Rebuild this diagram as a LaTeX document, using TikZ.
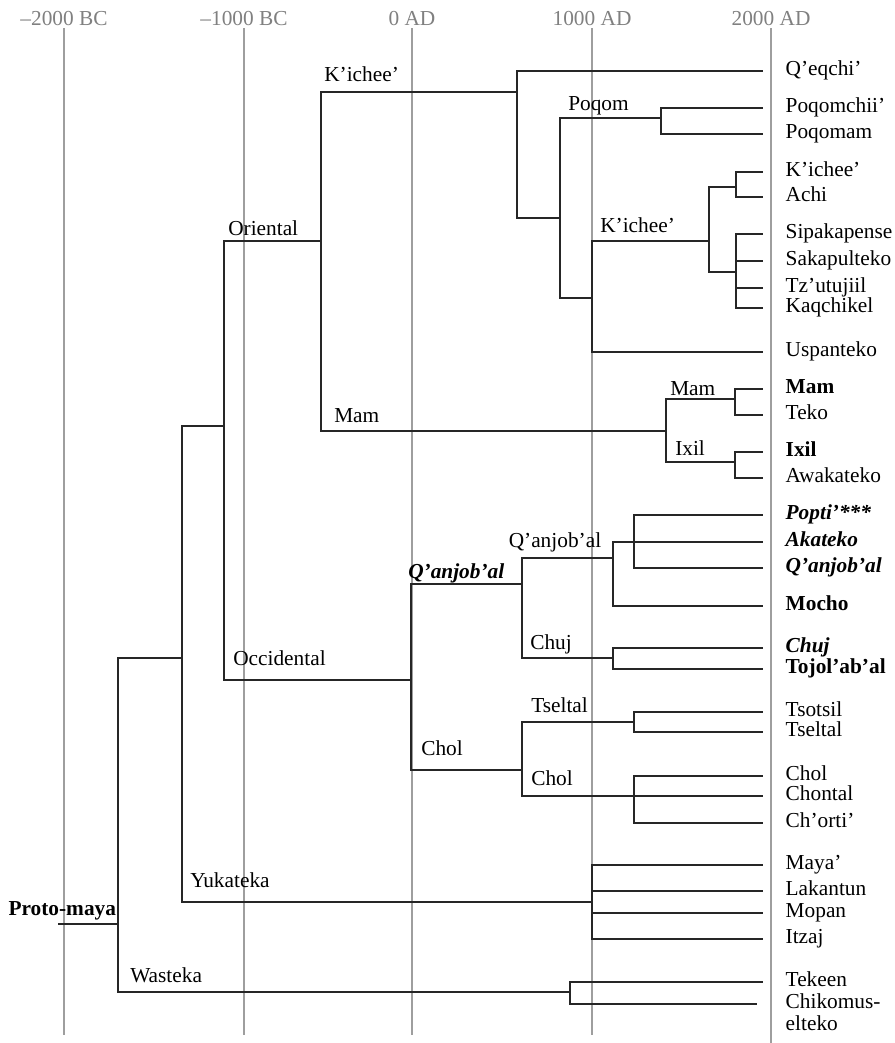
\documentclass[tikz,border=0pt]{standalone}
\usepackage{fontspec}
\setmainfont{Liberation Serif}
\definecolor{yeargray}{gray}{0.5}
\definecolor{ruler}{gray}{0.62}
\tikzset{
  branch/.style={line width=1.5pt, black!85},
  leaf/.style={anchor=west, inner xsep=0pt, inner ysep=0pt, outer xsep=17.4pt, outer ysep=0pt, text height=0.7em, text depth=0.04em},
  grp/.style={anchor=base west, inner sep=0pt},
  year/.style={anchor=base, inner sep=0pt, text=yeargray}
}

\begin{document}
\begin{tikzpicture}[x=0.75pt, y=-0.75pt, font=\fontsize{16}{16.5}\selectfont]
  \useasboundingbox (0,0) rectangle (895,1043);
  \foreach \x/\bot/\yr in {64/1035/{--2000 BC}, 244/1035/{--1000 BC}, 412/1035/{0 AD}, 592/1035/{1000 AD}, 771/1043/{2000 AD}} {
    \draw[ruler, line width=1pt] (\x,28) -- (\x,\bot);
    \node[year] (yr\x) at (\x,25) {\yr};
  }

  \coordinate (root) at (58,924);
  \coordinate (pm) at (118,924);
  \coordinate (core) at (182,658);
  \coordinate (wast) at (570,992);
  \coordinate (split) at (224,426);
  \coordinate (yuk) at (592,902);
  \coordinate (orient) at (321,241);
  \coordinate (occid) at (411,680);
  \coordinate (kichA) at (517,92);
  \coordinate (mamgrp) at (666,431);
  \coordinate (kichB) at (560,218);
  \coordinate (poqom) at (661,118);
  \coordinate (kichC) at (592,298);
  \coordinate (kichD) at (709,241);
  \coordinate (kichE) at (736,187);
  \coordinate (kichF) at (736,272);
  \coordinate (mamsub) at (735,399);
  \coordinate (ixilsub) at (735,462);
  \coordinate (qanj) at (522,584);
  \coordinate (cholgrp) at (522,770);
  \coordinate (qanjsub) at (613,558);
  \coordinate (popq) at (634,542);
  \coordinate (chujsub) at (613,658);
  \coordinate (tseltalsub) at (634,722);
  \coordinate (cholsub) at (634,796);

  \node[leaf] (qeqchi) at (762.5,71) {Q’eqchi’};
  \node[leaf] (poqomchii) at (762.5,108) {Poqomchii’};
  \node[leaf] (poqomam) at (762.5,134) {Poqomam};
  \node[leaf] (kichee) at (762.5,172) {K’ichee’};
  \node[leaf] (achi) at (762.5,197) {Achi};
  \node[leaf] (sipakapense) at (762.5,234) {Sipakapense};
  \node[leaf] (sakapulteko) at (762.5,261) {Sakapulteko};
  \node[leaf] (tzutujiil) at (762.5,288) {Tz’utujiil};
  \node[leaf] (kaqchikel) at (762.5,308) {Kaqchikel};
  \node[leaf] (uspanteko) at (762.5,352) {Uspanteko};
  \node[leaf] (mam) at (762.5,389) {\textbf{Mam}};
  \node[leaf] (teko) at (762.5,415) {Teko};
  \node[leaf] (ixil) at (762.5,452) {\textbf{Ixil}};
  \node[leaf] (awakateko) at (762.5,478) {Awakateko};
  \node[leaf] (popti) at (762.5,515) {\textbf{\textit{Popti’***}}};
  \node[leaf] (akateko) at (762.5,542) {\textbf{\textit{Akateko}}};
  \node[leaf] (qanjobal) at (762.5,568) {\textbf{\textit{Q’anjob’al}}};
  \node[leaf] (mocho) at (762.5,606) {\textbf{Mocho}};
  \node[leaf] (chuj) at (762.5,648) {\textbf{\textit{Chuj}}};
  \node[leaf] (tojolabal) at (762.5,669) {\textbf{Tojol’ab’al}};
  \node[leaf] (tsotsil) at (762.5,712) {Tsotsil};
  \node[leaf] (tseltal) at (762.5,732) {Tseltal};
  \node[leaf] (chol) at (762.5,776) {Chol};
  \node[leaf] (chontal) at (762.5,796) {Chontal};
  \node[leaf] (chorti) at (762.5,823) {Ch’orti’};
  \node[leaf] (maya) at (762.5,865) {Maya’};
  \node[leaf] (lakantun) at (762.5,891) {Lakantun};
  \node[leaf] (mopan) at (762.5,913) {Mopan};
  \node[leaf] (itzaj) at (762.5,939) {Itzaj};
  \node[leaf] (tekeen) at (762.5,982) {Tekeen};
  \node[leaf] (chikomus) at (762.5,1004) {\begin{tabular}[t]{@{}l@{}}Chikomus-\\elteko\end{tabular}};

  \node[grp] (l-proto) at (8.3,915) {\textbf{Proto-maya}};
  \node[grp] (l-kichA) at (324,81.7) {K’ichee’};
  \node[grp] (l-poqom) at (568,110) {Poqom};
  \node[grp] (l-kichD) at (600,232) {K’ichee’};
  \node[grp] (l-orient) at (228,235) {Oriental};
  \node[grp] (l-mamgrp) at (334,422) {Mam};
  \node[grp] (l-mamsub) at (670,395) {Mam};
  \node[grp] (l-ixilsub) at (675,455) {Ixil};
  \node[grp] (l-qanj) at (408,578) {\textbf{\textit{Q’anjob’al}}};
  \node[grp] (l-qanjsub) at (508.5,547) {Q’anjob’al};
  \node[grp] (l-chujsub) at (530,649) {Chuj};
  \node[grp] (l-occid) at (233,665) {Occidental};
  \node[grp] (l-cholgrp) at (421,755) {Chol};
  \node[grp] (l-tseltalsub) at (531,712) {Tseltal};
  \node[grp] (l-cholsub) at (531,785) {Chol};
  \node[grp] (l-yuk) at (190,887) {Yukateka};
  \node[grp] (l-wast) at (130,982) {Wasteka};

  \draw[branch] (root) -- (pm);
  \foreach \from/\to in {pm/core, pm/wast, core/split, core/yuk, split/orient, split/occid,
      orient/kichA, orient/mamgrp, kichA/qeqchi, kichA/kichB, kichB/poqom, kichB/kichC,
      poqom/poqomchii, poqom/poqomam, kichC/kichD, kichC/uspanteko, kichD/kichE, kichD/kichF,
      kichE/kichee, kichE/achi, kichF/sipakapense, kichF/sakapulteko, kichF/tzutujiil, kichF/kaqchikel,
      mamgrp/mamsub, mamgrp/ixilsub, mamsub/mam, mamsub/teko, ixilsub/ixil, ixilsub/awakateko,
      occid/qanj, occid/cholgrp, qanj/qanjsub, qanj/chujsub, qanjsub/akateko, qanjsub/mocho,
      popq/popti, popq/qanjobal, chujsub/chuj, chujsub/tojolabal, cholgrp/tseltalsub, cholgrp/cholsub,
      tseltalsub/tsotsil, tseltalsub/tseltal, cholsub/chol, cholsub/chontal, cholsub/chorti,
      yuk/maya, yuk/lakantun, yuk/mopan, yuk/itzaj, wast/tekeen}
    \draw[branch] (\from) |- (\to);
  \draw[branch] (wast) |- ([xshift=-4.4pt]chikomus.west);
\end{tikzpicture}
\end{document}
